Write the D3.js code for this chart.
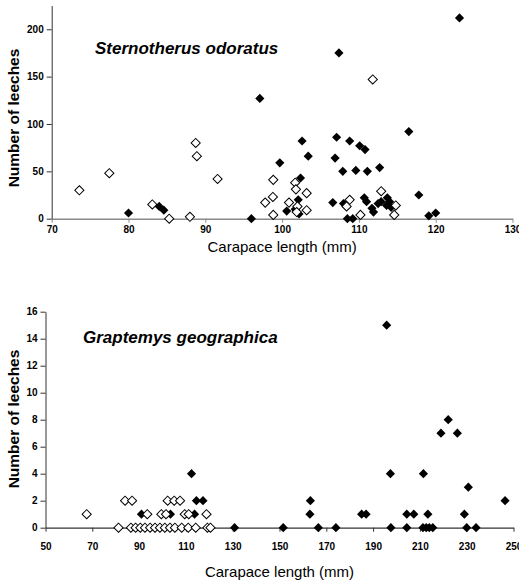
<!DOCTYPE html>
<html>
<head>
<meta charset="utf-8">
<script src="https://cdn.jsdelivr.net/npm/d3@7"></script>
<style>
  body { margin: 0; background: #fff; }
  svg { display: block; font-family: Arial, "Liberation Sans", sans-serif; }
  .tick text { font-weight: bold; font-size: 10px; fill: #000; }
</style>
</head>
<body>
<div id="chart"></div>
<script>
// Sternotherus odoratus: [carapace length, leeches]
const sternFilled = [
  [80, 6], [84, 13], [84.6, 9], [96, 0], [97.1, 127], [123.1, 212], [107.4, 175],
  [116.5, 92], [102.6, 82], [107.1, 86], [108.8, 82], [110.1, 77], [110.8, 73],
  [103.4, 66], [106.9, 64], [99.7, 59], [107.9, 50], [109.6, 51], [111.1, 50],
  [112.7, 54], [102.4, 43], [117.8, 25], [102.1, 20], [100.6, 8], [101.7, 10],
  [102.2, 5], [106.6, 17], [108, 16], [110.7, 22], [111, 18], [111.7, 11],
  [111.9, 7], [112.5, 16], [112.9, 18], [113.7, 22], [114, 18], [113.6, 14],
  [114.2, 12], [108.5, 0], [109.2, 0], [119.1, 3], [120, 6]
];
const sternOpen = [
  [73.6, 30], [77.5, 48], [83.1, 15], [85.3, 0], [88, 2], [88.75, 80], [88.9, 66],
  [91.6, 42], [111.8, 147], [98.85, 41], [98.8, 23], [97.8, 17], [98.85, 4],
  [101.7, 38], [101.8, 31], [100.9, 17], [103.2, 27], [102, 13], [103.2, 9],
  [101.9, 7], [108.8, 20], [108.4, 13], [110.2, 4], [112.9, 29], [114.8, 14], [114.6, 4]
];
const sternXTicks = [70, 80, 90, 100, 110, 120, 130];
const sternYTicks = [0, 50, 100, 150, 200];

// Graptemys geographica
const grapFilled = [
  [112.4, 4], [114.5, 2], [117.3, 2], [91, 1], [103.4, 1], [113.7, 1], [130.8, 0],
  [151.6, 0], [166.6, 0], [174.1, 0], [197.6, 0], [204.4, 0], [211.3, 0], [212.7, 0],
  [214, 0], [215.5, 0], [230, 0], [234, 0], [163, 1], [185.1, 1], [187, 1],
  [204.4, 1], [207.4, 1], [213.4, 1], [229, 1], [163.2, 2], [246.4, 2], [230.7, 3],
  [197.4, 4], [211.5, 4], [219, 7], [226, 7], [222.1, 8], [195.8, 15]
];
const grapOpen = [
  [84, 2], [87, 2], [102.2, 2], [105, 2], [107.5, 2],
  [67.6, 1], [93.5, 1], [99.5, 1], [101.5, 1], [109.5, 1], [111.2, 1], [118.8, 1],
  [81.2, 0], [86.5, 0], [88.5, 0], [90.5, 0], [92.5, 0], [94.7, 0], [96.8, 0],
  [98.9, 0], [101, 0], [103.2, 0], [105.3, 0], [108.2, 0], [111, 0], [114.2, 0],
  [119.2, 0], [120.5, 0]
];
const grapXTicks = [50, 70, 90, 110, 130, 150, 170, 190, 210, 230, 250];
const grapYTicks = [0, 2, 4, 6, 8, 10, 12, 14, 16];

const svg = d3.select("#chart").append("svg")
  .attr("width", 519)
  .attr("height", 582);

const diamond = d3.symbol().type(d3.symbolSquare).size(42);

function panel(opts) {
  const x = d3.scaleLinear().domain(opts.xDomain).range(opts.xRange);
  const y = d3.scaleLinear().domain(opts.yDomain).range(opts.yRange);
  const g = svg.append("g");

  const xAxis = g.append("g")
    .attr("transform", `translate(0,${opts.yRange[0]})`)
    .call(d3.axisBottom(x).tickValues(opts.xTicks).tickSize(4).tickSizeOuter(0).tickPadding(opts.xPad));
  xAxis.select(".domain").attr("stroke", opts.xColor).attr("stroke-width", opts.xWidth);
  xAxis.selectAll(".tick line").attr("stroke", opts.xColor);

  const yAxis = g.append("g")
    .attr("transform", `translate(${opts.xRange[0]},0)`)
    .call(d3.axisLeft(y).tickValues(opts.yTicks).tickSize(5).tickSizeOuter(0).tickPadding(3));
  yAxis.select(".domain").attr("stroke", "#333");
  yAxis.selectAll(".tick line").attr("stroke", "#333");

  g.selectAll(".filled")
    .data(opts.filled)
    .enter()
    .append("path")
    .attr("d", diamond)
    .attr("transform", (d) => `translate(${x(d[0])},${y(d[1])}) rotate(45)`)
    .attr("fill", "#000");

  g.selectAll(".open")
    .data(opts.open)
    .enter()
    .append("path")
    .attr("d", diamond)
    .attr("transform", (d) => `translate(${x(d[0])},${y(d[1])}) rotate(45)`)
    .attr("fill", "#fff")
    .attr("stroke", "#000")
    .attr("stroke-width", 1);

  // species name
  g.append("text")
    .attr("x", opts.titleX)
    .attr("y", opts.titleY)
    .attr("font-size", 17)
    .attr("font-weight", "bold")
    .attr("font-style", "italic")
    .text(opts.title);

  // X-axis label
  g.append("text")
    .attr("x", (opts.xRange[0] + opts.xRange[1]) / 2)
    .attr("y", opts.xLabelY)
    .attr("text-anchor", "middle")
    .attr("font-size", 15)
    .text("Carapace length (mm)");

  // Y-axis label
  g.append("text")
    .attr("transform", `translate(19,${opts.yLabelY}) rotate(-90)`)
    .attr("text-anchor", "middle")
    .attr("font-size", 15.5)
    .attr("font-weight", "bold")
    .text("Number of leeches");
}

panel({
  xDomain: [70, 130], xRange: [51.7, 512.5],
  yDomain: [0, 225], yRange: [218.7, 5.6],
  xTicks: sternXTicks, yTicks: sternYTicks, xPad: 3,
  filled: sternFilled, open: sternOpen,
  xColor: "#8a8a8a", xWidth: 1.6,
  title: "Sternotherus odoratus", titleX: 95, titleY: 54,
  xLabelY: 252, yLabelY: 118
});

panel({
  xDomain: [50, 250], xRange: [45.5, 513.5],
  yDomain: [0, 16], yRange: [527.7, 311.7],
  xTicks: grapXTicks, yTicks: grapYTicks, xPad: 11,
  filled: grapFilled, open: grapOpen,
  xColor: "#333", xWidth: 1.3,
  title: "Graptemys geographica", titleX: 83, titleY: 343,
  xLabelY: 577, yLabelY: 419
});
</script>
</body>
</html>
